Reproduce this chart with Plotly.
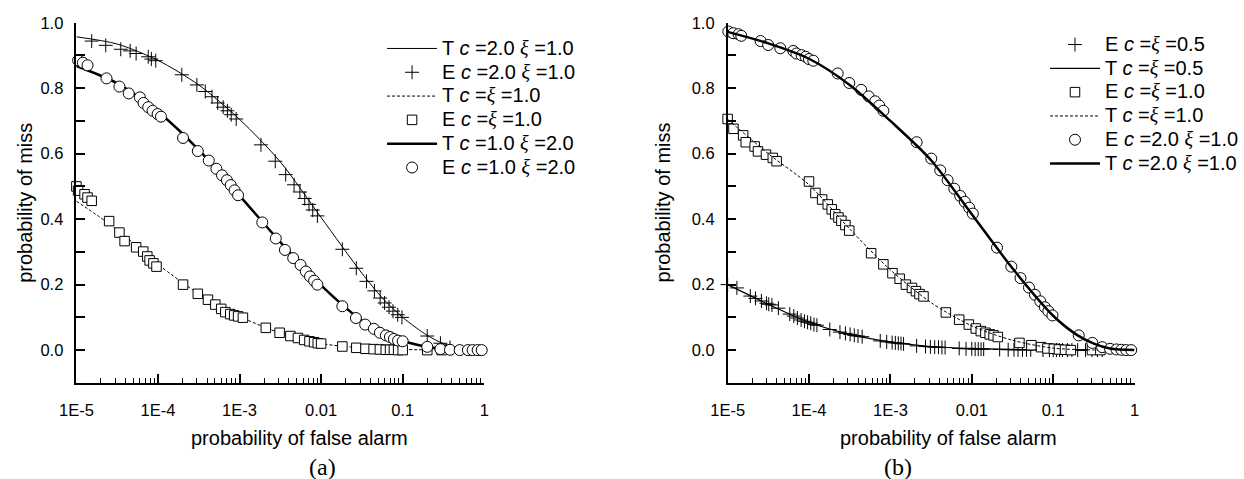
import plotly.graph_objects as go

# ---------------- data: panel (a) ----------------
a_T_c2x1_x = [1e-5, 3.16e-5, 1e-4, 3.16e-4, 1e-3, 3.16e-3, 1e-2, 3.16e-2, 5.6e-2, 1e-1, 2e-1, 3.16e-1, 5e-1, 1.0]
a_T_c2x1_y = [0.957, 0.935, 0.885, 0.81, 0.705, 0.575, 0.405, 0.235, 0.16, 0.10, 0.045, 0.02, 0.006, 0.0]

a_E_c2x1_x = [1.54e-5, 2.29e-5, 3.5e-5, 4.56e-5, 5.4e-5, 7.6e-5, 8.3e-5, 9.4e-5, 1.96e-4, 3.0e-4, 3.8e-4,
              4.6e-4, 5.4e-4, 6.3e-4, 7.1e-4, 7.9e-4, 9.1e-4, 1.83e-3, 2.74e-3, 3.68e-3, 4.66e-3, 5.5e-3,
              6.3e-3, 7.1e-3, 7.9e-3, 9.0e-3, 1.82e-2, 2.7e-2, 3.6e-2, 4.5e-2, 5.3e-2, 6.0e-2, 6.8e-2,
              7.6e-2, 8.7e-2, 9.8e-2, 0.2, 0.29, 0.38]
a_E_c2x1_y = [0.944, 0.931, 0.919, 0.914, 0.906, 0.896, 0.889, 0.884, 0.841, 0.81, 0.79,
              0.774, 0.755, 0.742, 0.731, 0.719, 0.706, 0.627, 0.577, 0.536, 0.505, 0.483,
              0.463, 0.445, 0.428, 0.41, 0.308, 0.25, 0.21, 0.181, 0.159, 0.144, 0.131,
              0.119, 0.108, 0.10, 0.043, 0.021, 0.008]

a_T_c1_x = [1e-5, 3.16e-5, 1e-4, 3.16e-4, 1e-3, 3.16e-3, 1e-2, 3.16e-2, 1e-1, 3.16e-1, 1.0]
a_T_c1_y = [0.455, 0.368, 0.262, 0.172, 0.103, 0.052, 0.02, 0.007, 0.002, 0.0, 0.0]

a_E_c1_x = [1.0e-5, 1.05e-5, 1.26e-5, 1.37e-5, 1.54e-5, 2.52e-5, 3.37e-5, 3.9e-5, 5.4e-5, 6.6e-5, 7.4e-5,
            7.9e-5, 8.8e-5, 9.6e-5, 2.03e-4, 3.08e-4, 4.1e-4, 5.05e-4, 5.96e-4, 6.7e-4, 7.7e-4, 8.6e-4,
            9.6e-4, 1.1e-3, 2.1e-3, 3.1e-3, 4.2e-3, 5.2e-3, 6.2e-3, 7.2e-3, 8.2e-3, 9.1e-3, 1.0e-2,
            1.82e-2, 2.7e-2, 3.5e-2, 4.4e-2, 5.25e-2, 6.2e-2, 7.0e-2, 7.8e-2, 8.8e-2, 0.1, 0.2, 0.3]
a_E_c1_y = [0.5, 0.487, 0.476, 0.466, 0.456, 0.394, 0.359, 0.333, 0.314, 0.301, 0.286,
            0.274, 0.265, 0.255, 0.2, 0.172, 0.154, 0.139, 0.126, 0.116, 0.110, 0.106,
            0.103, 0.099, 0.068, 0.053, 0.043, 0.037, 0.031, 0.027, 0.024, 0.021, 0.02,
            0.011, 0.007, 0.004, 0.003, 0.002, 0.001, 0.001, 0.001, 0.0, 0.0, 0.0, 0.0]

a_T_c1x2_x = [1e-5, 3.16e-5, 1e-4, 3.16e-4, 1e-3, 3.16e-3, 1e-2, 3.16e-2, 5.6e-2, 1e-1, 2e-1, 3.16e-1, 5e-1, 1.0]
a_T_c1x2_y = [0.868, 0.815, 0.728, 0.612, 0.472, 0.33, 0.198, 0.09, 0.052, 0.028, 0.01, 0.003, 0.001, 0.0]

a_E_c1x2_x = [1.05e-5, 1.2e-5, 1.37e-5, 2.34e-5, 3.37e-5, 4.38e-5, 6.0e-5, 6.65e-5, 7.6e-5, 8.6e-5, 9.9e-5,
              1.09e-4, 2.03e-4, 3.08e-4, 4.2e-4, 5.2e-4, 6.1e-4, 7.0e-4, 7.8e-4, 8.7e-4, 9.6e-4, 1.9e-3,
              2.78e-3, 3.6e-3, 4.55e-3, 5.6e-3, 6.5e-3, 7.3e-3, 8.2e-3, 9.0e-3, 1.82e-2, 2.67e-2, 3.47e-2,
              4.43e-2, 5.25e-2, 6.22e-2, 6.98e-2, 7.8e-2, 8.77e-2, 0.1, 0.2, 0.29, 0.38, 0.5, 0.63, 0.72,
              0.83, 0.93]
a_E_c1x2_y = [0.885, 0.878, 0.87, 0.83, 0.805, 0.784, 0.772, 0.755, 0.742, 0.731, 0.721,
              0.713, 0.648, 0.608, 0.579, 0.554, 0.534, 0.519, 0.504, 0.488, 0.473, 0.39,
              0.341, 0.306, 0.281, 0.26, 0.24, 0.225, 0.212, 0.2, 0.134, 0.098, 0.078,
              0.065, 0.053, 0.045, 0.04, 0.034, 0.029, 0.027, 0.01, 0.003, 0.001, 0.0, 0.0, 0.0,
              0.0, 0.0]

# ---------------- data: panel (b) ----------------
b_E_c05_x = [1.0e-5, 1.3e-5, 1.9e-5, 2.2e-5, 2.6e-5, 3.0e-5, 3.2e-5, 3.5e-5, 4.2e-5, 5.8e-5, 6.5e-5,
             7.2e-5, 8.0e-5, 8.8e-5, 9.6e-5, 1.05e-4, 1.15e-4, 1.25e-4, 1.8e-4, 2.4e-4, 2.8e-4, 3.2e-4,
             3.6e-4, 4.0e-4, 4.5e-4, 7.5e-4, 9.0e-4, 1.05e-3, 1.15e-3, 1.25e-3, 1.35e-3, 1.45e-3,
             2.1e-3, 2.7e-3, 3.1e-3, 3.5e-3, 3.9e-3, 4.3e-3, 4.7e-3, 7.0e-3, 8.5e-3, 1.0e-2, 1.1e-2,
             1.2e-2, 1.3e-2, 1.4e-2, 2.2e-2, 2.8e-2, 3.3e-2, 3.7e-2, 4.2e-2, 4.7e-2, 5.3e-2, 7.5e-2,
             9.0e-2, 0.1, 0.11, 0.12, 0.13, 0.15, 0.17, 0.2, 0.25, 0.3, 0.35, 0.4]
b_E_c05_y = [0.20, 0.19, 0.165, 0.158, 0.15, 0.143, 0.14, 0.138, 0.128, 0.11, 0.104,
             0.098, 0.092, 0.088, 0.085, 0.082, 0.078, 0.076, 0.063, 0.055, 0.051, 0.048,
             0.045, 0.043, 0.041, 0.028, 0.025, 0.023, 0.022, 0.021, 0.02, 0.019,
             0.013, 0.011, 0.01, 0.009, 0.009, 0.008, 0.008, 0.005, 0.004, 0.004, 0.003,
             0.003, 0.003, 0.003, 0.002, 0.001, 0.001, 0.001, 0.001, 0.001, 0.001, 0.0,
             0.0, 0.0, 0.0, 0.0, 0.0, 0.0, 0.0, 0.0, 0.0, 0.0, 0.0, 0.0]

b_T_c05_x = [1e-5, 3.16e-5, 1e-4, 3.16e-4, 1e-3, 3.16e-3, 1e-2, 3.16e-2, 1e-1, 1.0]
b_T_c05_y = [0.20, 0.14, 0.085, 0.048, 0.025, 0.011, 0.005, 0.002, 0.0005, 0.0]

b_E_c1_x = [1.0e-5, 1.18e-5, 1.55e-5, 1.67e-5, 2.15e-5, 2.36e-5, 2.96e-5, 3.59e-5, 4.0e-5, 1.0e-4,
            1.2e-4, 1.45e-4, 1.7e-4, 1.9e-4, 2.1e-4, 2.3e-4, 2.5e-4, 2.8e-4, 3.12e-4, 5.8e-4, 8.2e-4,
            1.06e-3, 1.3e-3, 1.55e-3, 1.84e-3, 2.06e-3, 2.28e-3, 2.55e-3, 4.8e-3, 7.0e-3, 9.2e-3,
            1.12e-2, 1.29e-2, 1.47e-2, 1.66e-2, 1.85e-2, 2.09e-2, 3.85e-2, 5.4e-2, 7.1e-2, 8.5e-2,
            0.102, 0.118, 0.14, 0.165, 0.3, 0.38]
b_E_c1_y = [0.706, 0.676, 0.656, 0.635, 0.622, 0.607, 0.597, 0.587, 0.577, 0.515,
            0.48, 0.46, 0.445, 0.43, 0.415, 0.405, 0.395, 0.382, 0.365, 0.296, 0.262,
            0.235, 0.218, 0.2, 0.19, 0.18, 0.171, 0.164, 0.115, 0.093, 0.078,
            0.066, 0.058, 0.053, 0.048, 0.045, 0.04, 0.022, 0.015, 0.009, 0.005,
            0.004, 0.002, 0.001, 0.0, 0.0, 0.0]

b_T_c1_x = [1e-5, 3.16e-5, 1e-4, 3.16e-4, 1e-3, 3.16e-3, 1e-2, 3.16e-2, 1e-1, 3.16e-1, 1.0]
b_T_c1_y = [0.705, 0.60, 0.505, 0.37, 0.245, 0.145, 0.074, 0.03, 0.006, 0.0005, 0.0]

b_E_c2_x = [1.02e-5, 1.17e-5, 1.36e-5, 1.47e-5, 2.54e-5, 3.15e-5, 4.44e-5, 6.4e-5, 7.0e-5, 8.1e-5, 9.1e-5,
            1.0e-4, 1.13e-4, 2.25e-4, 3.12e-4, 4.37e-4, 5.4e-4, 6.5e-4, 7.3e-4, 8.2e-4, 2.1e-3, 3.18e-3,
            4.1e-3, 5.05e-3, 6.1e-3, 7.2e-3, 8.2e-3, 9.3e-3, 1.03e-2, 2.04e-2, 3.06e-2, 3.97e-2,
            5.04e-2, 5.96e-2, 6.94e-2, 7.9e-2, 8.73e-2, 9.8e-2, 0.206, 0.303, 0.4, 0.5, 0.6, 0.69,
            0.79, 0.91]
b_E_c2_y = [0.973, 0.968, 0.965, 0.96, 0.944, 0.932, 0.922, 0.914, 0.906, 0.901, 0.896,
            0.889, 0.884, 0.845, 0.816, 0.795, 0.775, 0.76, 0.747, 0.731, 0.635, 0.585,
            0.549, 0.519, 0.493, 0.471, 0.453, 0.435, 0.417, 0.313, 0.255, 0.22,
            0.191, 0.169, 0.149, 0.131, 0.119, 0.106, 0.045, 0.022, 0.009, 0.004, 0.002, 0.001,
            0.0, 0.0]

b_T_c2_x = [1e-5, 3.16e-5, 1e-4, 3.16e-4, 1e-3, 3.16e-3, 1e-2, 3.16e-2, 1e-1, 2e-1, 3.16e-1, 5e-1, 1.0]
b_T_c2_y = [0.972, 0.937, 0.89, 0.81, 0.70, 0.58, 0.415, 0.25, 0.105, 0.045, 0.02, 0.005, 0.0]

x_tick_vals = [1e-5, 1e-4, 1e-3, 1e-2, 1e-1, 1.0]
x_tick_text = ["1E-5", "1E-4", "1E-3", "0.01", "0.1", "1"]
x_minor_vals = [m * d for d in [1e-5, 1e-4, 1e-3, 1e-2, 1e-1] for m in range(2, 10)]
y_tick_vals = [0.0, 0.1, 0.2, 0.3, 0.4, 0.5, 0.6, 0.7, 0.8, 0.9, 1.0]
y_tick_text = ["0.0", "", "0.2", "", "0.4", "", "0.6", "", "0.8", "", "1.0"]

FONT = "Liberation Sans, Arial, sans-serif"
FS_TICK = 16.5
FS_TITLE = 20
FS_LEG_ROW = 16      # governs legend row spacing
FS_LEG_TXT = 20      # actual glyph size of legend text
XI = "<span style='font-family:Liberation Serif'><i>ξ</i></span>"
C = "<i>c</i>"


def lab(s):
    return f"<span style='font-size:{FS_LEG_TXT}px'>{s}</span>"


fig = go.Figure()


def line(x, y, name, width, dash, xa, ya, leg):
    fig.add_trace(go.Scatter(x=x, y=y, mode="lines", name=lab(name), xaxis=xa, yaxis=ya, legend=leg,
                             line=dict(color="black", width=width, dash=dash, shape="spline", smoothing=0.8)))


def pts(x, y, name, symbol, size, xa, ya, leg):
    if symbol == "cross-thin":
        marker = dict(symbol=symbol, size=size, color="black", line=dict(color="black", width=1))
    else:
        marker = dict(symbol=symbol, size=size, color="white", line=dict(color="black", width=1))
    fig.add_trace(go.Scatter(x=x, y=y, mode="markers", name=lab(name), xaxis=xa, yaxis=ya, legend=leg,
                             marker=marker, cliponaxis=False))


# panel (a)
line(a_T_c2x1_x, a_T_c2x1_y, f"T {C} =2.0 {XI} =1.0", 1, "solid", "x", "y", "legend")
pts(a_E_c2x1_x, a_E_c2x1_y, f"E {C} =2.0 {XI} =1.0", "cross-thin", 10, "x", "y", "legend")
line(a_T_c1_x, a_T_c1_y, f"T {C} ={XI} =1.0", 1, "3px,2px", "x", "y", "legend")
pts(a_E_c1_x, a_E_c1_y, f"E {C} ={XI} =1.0", "square", 9.5, "x", "y", "legend")
line(a_T_c1x2_x, a_T_c1x2_y, f"T {C} =1.0 {XI} =2.0", 2.5, "solid", "x", "y", "legend")
pts(a_E_c1x2_x, a_E_c1x2_y, f"E {C} =1.0 {XI} =2.0", "circle", 11, "x", "y", "legend")

# panel (b)
pts(b_E_c05_x, b_E_c05_y, f"E {C} ={XI} =0.5", "cross-thin", 10, "x2", "y2", "legend2")
line(b_T_c05_x, b_T_c05_y, f"T {C} ={XI} =0.5", 1.2, "solid", "x2", "y2", "legend2")
pts(b_E_c1_x, b_E_c1_y, f"E {C} ={XI} =1.0", "square", 9.5, "x2", "y2", "legend2")
line(b_T_c1_x, b_T_c1_y, f"T {C} ={XI} =1.0", 1, "3px,2px", "x2", "y2", "legend2")
pts(b_E_c2_x, b_E_c2_y, f"E {C} =2.0 {XI} =1.0", "circle", 11, "x2", "y2", "legend2")
line(b_T_c2_x, b_T_c2_y, f"T {C} =2.0 {XI} =1.0", 2.5, "solid", "x2", "y2", "legend2")

W, H = 1244, 479
ax_left = [61 / W, 480 / W]
ax_right = [730 / W, 1148 / W]
y_dom = [1 - 381 / H, 1 - 14 / H]

xcommon = dict(type="log", range=[-5, 0], tickmode="array", tickvals=x_tick_vals, ticktext=x_tick_text,
               ticks="inside", ticklen=9, tickwidth=1.5, tickcolor="black", showline=True, linecolor="black",
               linewidth=1.5, showgrid=False, zeroline=False, mirror=False, ticklabelstandoff=12,
               tickfont=dict(family=FONT, size=FS_TICK, color="black"),
               minor=dict(tickmode="array", tickvals=x_minor_vals, ticks="inside", ticklen=5, tickwidth=1,
                          tickcolor="black", showgrid=False))
ycommon = dict(range=[-0.1, 1.0], tickmode="array", tickvals=y_tick_vals, ticktext=y_tick_text,
               ticks="inside", ticklen=9, tickwidth=1.5, tickcolor="black", showline=True, linecolor="black",
               linewidth=1.5, showgrid=False, zeroline=False, mirror=False, ticklabelstandoff=8,
               tickfont=dict(family=FONT, size=FS_TICK, color="black"))

fig.update_layout(
    width=W, height=H, margin=dict(l=0, r=0, t=0, b=0),
    paper_bgcolor="white", plot_bgcolor="white",
    font=dict(family=FONT, size=FS_TICK, color="black"),
    xaxis=dict(domain=ax_left, anchor="y", **xcommon),
    yaxis=dict(domain=y_dom, anchor="x",
               title=dict(text="probability of miss", standoff=2,
                          font=dict(family=FONT, size=FS_TITLE, color="black")),
               **ycommon),
    xaxis2=dict(domain=ax_right, anchor="y2", **xcommon),
    yaxis2=dict(domain=y_dom, anchor="x2", **ycommon),
    legend=dict(x=375 / W, y=1 - 23 / H, xanchor="left", yanchor="top", bgcolor="rgba(0,0,0,0)",
                borderwidth=0, itemwidth=50,
                font=dict(family=FONT, size=FS_LEG_ROW, color="black"), tracegroupgap=0),
    legend2=dict(x=1056 / W, y=1 - 19 / H, xanchor="left", yanchor="top", bgcolor="rgba(0,0,0,0)",
                 borderwidth=0, itemwidth=50,
                 font=dict(family=FONT, size=FS_LEG_ROW, color="black"), tracegroupgap=0),
    showlegend=True,
)

annots = [
    dict(text="probability of false alarm", x=290 / W, y=1 - 437 / H),
    dict(text="probability of false alarm", x=957 / W, y=1 - 437 / H),
]
for a in annots:
    fig.add_annotation(xref="paper", yref="paper", showarrow=False, xanchor="center", yanchor="middle",
                       font=dict(family=FONT, size=FS_TITLE, color="black"), **a)
fig.add_annotation(xref="paper", yref="paper", showarrow=False, xanchor="left", yanchor="middle",
                   text="probability of miss", x=650 / W, y=(y_dom[0] + y_dom[1]) / 2, textangle=-90,
                   font=dict(family=FONT, size=FS_TITLE, color="black"))
for txt, xc in [("(a)", 314 / W), ("(b)", 905 / W)]:
    fig.add_annotation(xref="paper", yref="paper", showarrow=False, xanchor="center", yanchor="middle",
                       text=txt, x=xc, y=1 - 467 / H,
                       font=dict(family="Liberation Serif, Times New Roman, serif", size=24, color="black"))

fig.write_html("out.html")
